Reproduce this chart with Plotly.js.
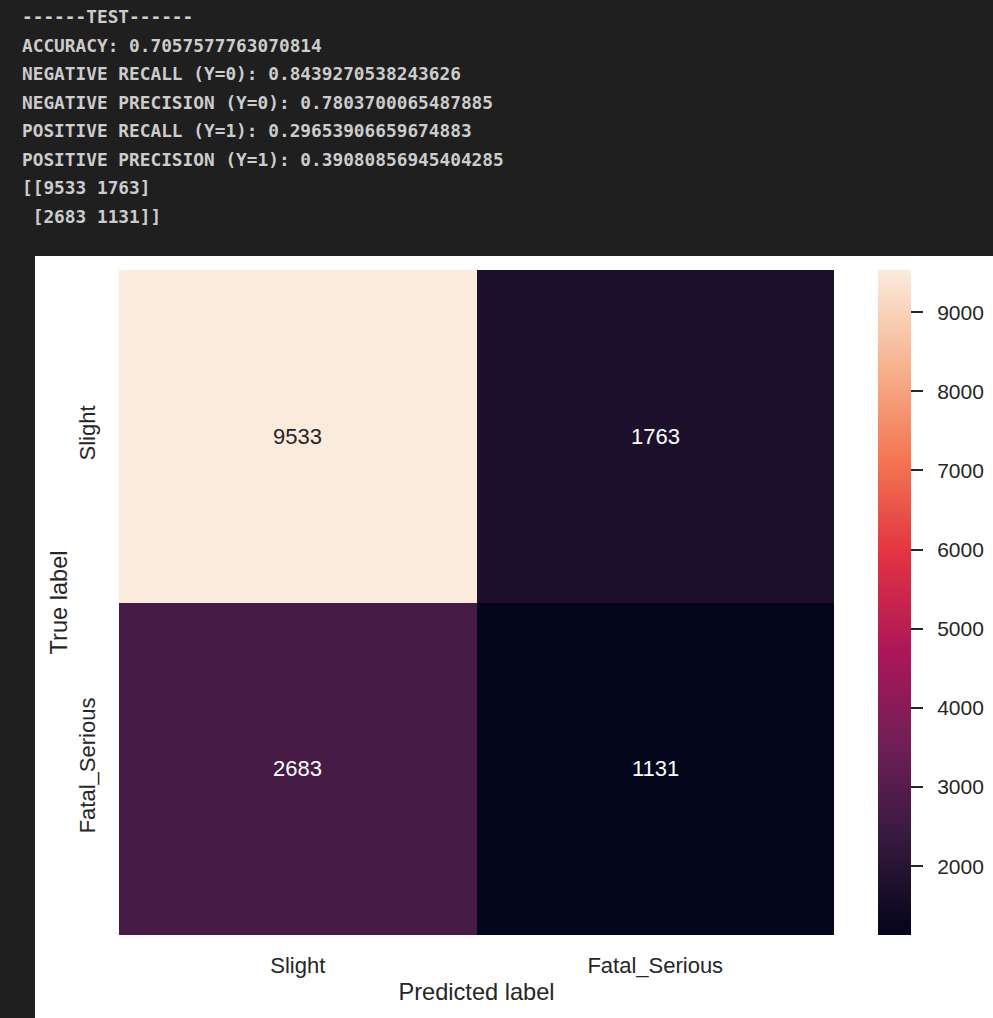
<!DOCTYPE html>
<html>
<head>
<meta charset="utf-8">
<script src="https://cdn.plot.ly/plotly-3.0.1.min.js"></script>
<style>
  html, body { margin: 0; padding: 0; background: #1f1f1f; width: 993px; height: 1018px; overflow: hidden; position: relative; }
  #log { position: absolute; left: 22px; top: 3px; margin: 0; color: #cccccc; font-weight: bold;
         font-family: "DejaVu Sans Mono", "Liberation Mono", monospace; font-size: 17.8px; line-height: 28.5px; }
  #plot { position: absolute; left: 35px; top: 256px; width: 1000px; height: 762px; background: #ffffff; }
</style>
</head>
<body>
<pre id="log"></pre>
<div id="plot"></div>
<script>
// ---- data ----
const logLines = [
  "------TEST------",
  "ACCURACY: 0.7057577763070814",
  "NEGATIVE RECALL (Y=0): 0.8439270538243626",
  "NEGATIVE PRECISION (Y=0): 0.7803700065487885",
  "POSITIVE RECALL (Y=1): 0.29653906659674883",
  "POSITIVE PRECISION (Y=1): 0.39080856945404285",
  "[[9533 1763]",
  " [2683 1131]]"
];
const predictedLabels = ["Slight", "Fatal_Serious"];
const trueLabels = ["Slight", "Fatal_Serious"];
const rowSlight = [9533, 1763];
const rowFatalSerious = [2683, 1131];
const colorbarTicks = [2000, 3000, 4000, 5000, 6000, 7000, 8000, 9000];

document.getElementById("log").textContent = logLines.join("\n");

const z = [rowSlight, rowFatalSerious];
const allVals = z.flat();
const zmin = Math.min(...allVals), zmax = Math.max(...allVals);

const rocket = [
  [0.0, "#03051a"],
  [0.143, "#35193e"],
  [0.286, "#701f57"],
  [0.429, "#ad1759"],
  [0.571, "#e13342"],
  [0.714, "#f37651"],
  [0.857, "#f6b48f"],
  [1.0, "#faebdd"]
];

const FAM = "Liberation Sans, Arial, sans-serif";
const INK = "#262626";

const annotations = [];
z.forEach((row, i) => row.forEach((v, j) => {
  const frac = (v - zmin) / (zmax - zmin);
  annotations.push({
    x: predictedLabels[j], y: trueLabels[i], xref: "x", yref: "y",
    text: String(v), showarrow: false,
    font: { family: FAM, size: 22, color: frac > 0.6 ? INK : "#ffffff" }
  });
}));

const trace = {
  type: "heatmap",
  x: predictedLabels, y: trueLabels, z: z,
  colorscale: rocket, zmin: zmin, zmax: zmax,
  colorbar: {
    x: 1.0615, xanchor: "left", xref: "paper", xpad: 0, ypad: 0,
    y: 0.5, yanchor: "middle",
    thickness: 33, thicknessmode: "pixels",
    len: 665, lenmode: "pixels",
    outlinewidth: 0,
    tickmode: "array",
    tickvals: colorbarTicks,
    ticktext: colorbarTicks.map(v => "\u2002" + v),
    ticks: "outside", ticklen: 12, tickwidth: 2, tickcolor: INK,
    tickfont: { family: FAM, size: 21, color: INK }
  }
};

const fontBase = { family: FAM, size: 22, color: INK };

const layout = {
  width: 1000, height: 762,
  margin: { l: 84, r: 201, t: 14, b: 83 },
  paper_bgcolor: "#ffffff", plot_bgcolor: "#ffffff",
  font: fontBase,
  xaxis: {
    type: "category", showgrid: false, zeroline: false, showline: false, ticks: "",
    tickfont: fontBase, automargin: false, ticklabelstandoff: 15,
    title: { text: "Predicted label", font: { family: FAM, size: 23.6, color: INK }, standoff: 6 }
  },
  yaxis: {
    type: "category", autorange: "reversed", showgrid: false, zeroline: false, showline: false, ticks: "",
    tickangle: -90, tickfont: fontBase, automargin: false, ticklabelstandoff: 19,
    title: { text: "True label", font: { family: FAM, size: 23.6, color: INK }, standoff: 0 }
  },
  annotations: annotations
};

Plotly.newPlot("plot", [trace], layout, { displayModeBar: false, staticPlot: true });
</script>
</body>
</html>
